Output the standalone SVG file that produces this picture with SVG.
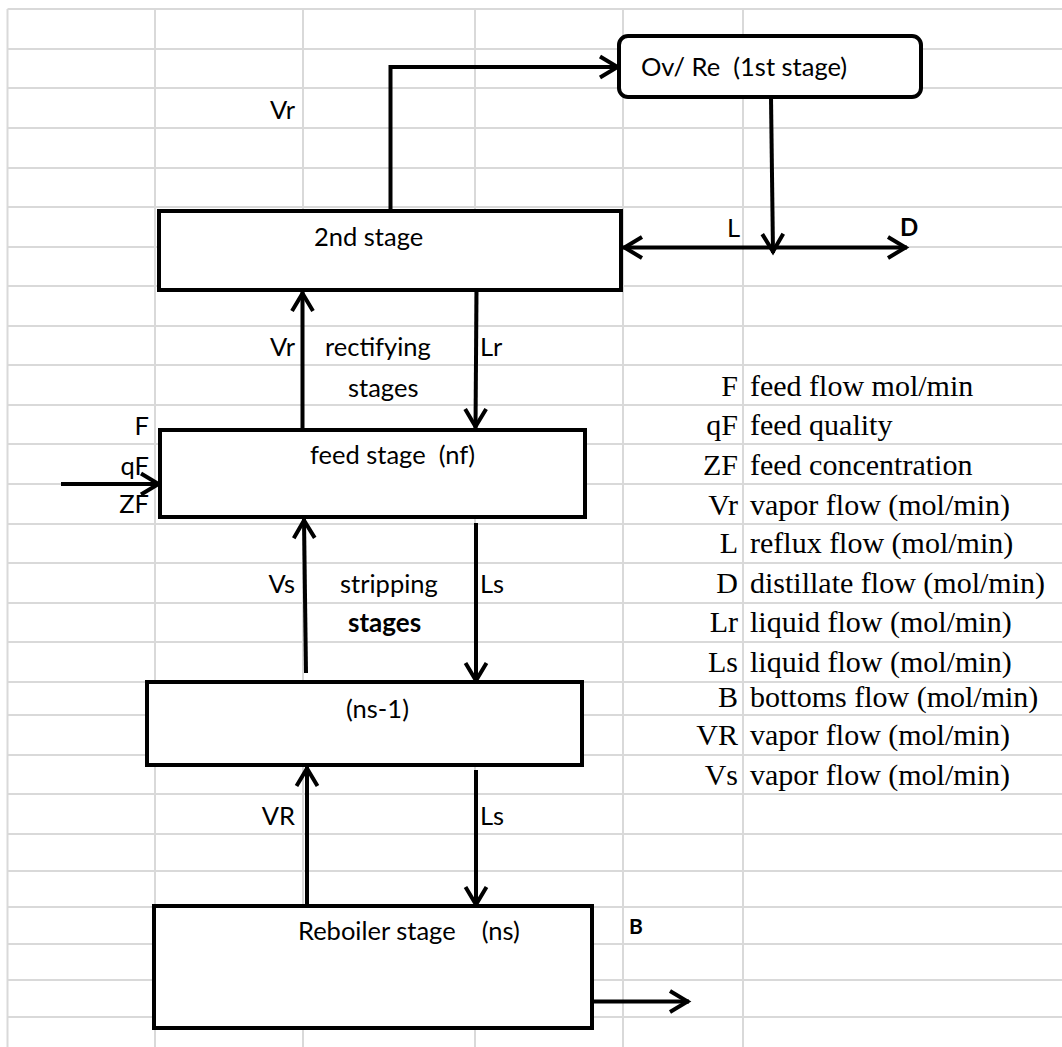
<svg xmlns="http://www.w3.org/2000/svg" width="1062" height="1047" viewBox="0 0 1062 1047">
<style>
.grid line{stroke:#d9d9d9;stroke-width:2}
.box{fill:#fff;stroke:#000;stroke-width:4}
.conn{fill:none;stroke:#000;stroke-width:4}
.c{font-family:Lato,"Open Sans",sans-serif;font-size:25.5px;fill:#000;white-space:pre}
.cb{font-family:Lato,"Open Sans",sans-serif;font-weight:bold;fill:#000}
.t{font-family:"Liberation Serif","Times New Roman",serif;font-size:30px;fill:#000}
</style>
<defs>
<marker id="ah" viewBox="-22 -13 26 26" refX="0" refY="0" markerWidth="26" markerHeight="26" markerUnits="userSpaceOnUse" orient="auto-start-reverse">
<path d="M-19,-10.5 L-1.5,0 L-19,10.5" fill="none" stroke="#000" stroke-width="4"/>
</marker>
</defs>
<rect width="1062" height="1047" fill="#fff"/>
<g class="grid">
<line x1="7.5" y1="9" x2="7.5" y2="1047"/>
<line x1="155" y1="9" x2="155" y2="1047"/>
<line x1="303" y1="9" x2="303" y2="1047"/>
<line x1="475" y1="9" x2="475" y2="1047"/>
<line x1="623" y1="9" x2="623" y2="1047"/>
<line x1="743" y1="9" x2="743" y2="1047"/>
<line x1="7.5" y1="9" x2="1062" y2="9"/>
<line x1="7.5" y1="49" x2="1062" y2="49"/>
<line x1="7.5" y1="88" x2="1062" y2="88"/>
<line x1="7.5" y1="128" x2="1062" y2="128"/>
<line x1="7.5" y1="168" x2="1062" y2="168"/>
<line x1="7.5" y1="207" x2="1062" y2="207"/>
<line x1="7.5" y1="247" x2="1062" y2="247"/>
<line x1="7.5" y1="286" x2="1062" y2="286"/>
<line x1="7.5" y1="326" x2="1062" y2="326"/>
<line x1="7.5" y1="365" x2="1062" y2="365"/>
<line x1="7.5" y1="405" x2="1062" y2="405"/>
<line x1="7.5" y1="444" x2="1062" y2="444"/>
<line x1="7.5" y1="484" x2="1062" y2="484"/>
<line x1="7.5" y1="524" x2="1062" y2="524"/>
<line x1="7.5" y1="563" x2="1062" y2="563"/>
<line x1="7.5" y1="603" x2="1062" y2="603"/>
<line x1="7.5" y1="642" x2="1062" y2="642"/>
<line x1="7.5" y1="682" x2="1062" y2="682"/>
<line x1="7.5" y1="715" x2="1062" y2="715"/>
<line x1="7.5" y1="755" x2="1062" y2="755"/>
<line x1="7.5" y1="794" x2="1062" y2="794"/>
<line x1="7.5" y1="834" x2="1062" y2="834"/>
<line x1="7.5" y1="871" x2="1062" y2="871"/>
<line x1="7.5" y1="907" x2="1062" y2="907"/>
<line x1="7.5" y1="944" x2="1062" y2="944"/>
<line x1="7.5" y1="980" x2="1062" y2="980"/>
<line x1="7.5" y1="1017" x2="1062" y2="1017"/>
</g>
<g id="connectors">
<polyline class="conn" points="390.5,211 390.5,67 619,67" marker-end="url(#ah)"/>
<line class="conn" x1="771" y1="97" x2="773" y2="253" marker-end="url(#ah)"/>
<line class="conn" x1="623" y1="247.5" x2="907" y2="247.5" marker-start="url(#ah)" marker-end="url(#ah)"/>
<line class="conn" x1="302.5" y1="430" x2="302.5" y2="292" marker-end="url(#ah)"/>
<line class="conn" x1="476.5" y1="292" x2="475.5" y2="428" marker-end="url(#ah)"/>
<line class="conn" x1="61" y1="484" x2="160" y2="484" marker-end="url(#ah)"/>
<line class="conn" x1="306" y1="673" x2="304" y2="519" marker-end="url(#ah)"/>
<line class="conn" x1="476" y1="523" x2="476" y2="682" marker-end="url(#ah)"/>
<line class="conn" x1="307" y1="906" x2="307" y2="767" marker-end="url(#ah)"/>
<line class="conn" x1="476" y1="770" x2="476" y2="906" marker-end="url(#ah)"/>
<line class="conn" x1="592" y1="1001.5" x2="689" y2="1001.5" marker-end="url(#ah)"/>
</g>
<g id="ov-re">
<rect class="box" x="619" y="36" width="302" height="61" rx="9"/>
<text class="c" x="641" y="76">Ov/ Re  (1st stage)</text>
</g>
<g id="stage2">
<rect class="box" x="159" y="211" width="462" height="79"/>
<text class="c" x="314" y="246">2nd stage</text>
</g>
<g id="feed-stage">
<rect class="box" x="160" y="430" width="425" height="87"/>
<text class="c" x="310" y="464">feed stage  (nf)</text>
</g>
<g id="ns-1">
<rect class="box" x="147" y="682" width="435" height="83"/>
<text class="c" x="346" y="718">(ns-1)</text>
</g>
<g id="reboiler">
<rect class="box" x="154" y="906" width="438" height="122"/>
<text class="c" x="298" y="940">Reboiler stage    (ns)</text>
</g>
<g id="labels">
<text class="c" x="295" y="119" text-anchor="end">Vr</text>
<text class="c" x="727" y="237">L</text>
<text class="cb" x="900" y="236" font-size="24">D</text>
<text class="c" x="295" y="356" text-anchor="end">Vr</text>
<text class="c" x="325" y="356" font-size="28.5">rectifying</text>
<text class="c" x="480" y="356">Lr</text>
<text class="c" x="348" y="397" font-size="28.5">stages</text>
<text class="c" x="149" y="435" text-anchor="end">F</text>
<text class="c" x="149" y="475" text-anchor="end">qF</text>
<text class="c" x="149" y="513" text-anchor="end">ZF</text>
<text class="c" x="295" y="593" text-anchor="end">Vs</text>
<text class="c" x="340" y="593">stripping</text>
<text class="c" x="480" y="593">Ls</text>
<text class="cb" x="348" y="632" font-size="26">stages</text>
<text class="c" x="295" y="825" text-anchor="end">VR</text>
<text class="c" x="480" y="825">Ls</text>
<text class="cb" x="629" y="934" font-size="21">B</text>
</g>
<g id="legend">
<text class="t" x="738" y="396" text-anchor="end">F</text><text class="t" x="750" y="396">feed flow mol/min</text>
<text class="t" x="738" y="435" text-anchor="end">qF</text><text class="t" x="750" y="435">feed quality</text>
<text class="t" x="738" y="475" text-anchor="end">ZF</text><text class="t" x="750" y="475">feed concentration</text>
<text class="t" x="738" y="515" text-anchor="end">Vr</text><text class="t" x="750" y="515">vapor flow (mol/min)</text>
<text class="t" x="738" y="553" text-anchor="end">L</text><text class="t" x="750" y="553">reflux flow (mol/min)</text>
<text class="t" x="738" y="593" text-anchor="end">D</text><text class="t" x="750" y="593">distillate flow (mol/min)</text>
<text class="t" x="738" y="632" text-anchor="end">Lr</text><text class="t" x="750" y="632">liquid flow (mol/min)</text>
<text class="t" x="738" y="672" text-anchor="end">Ls</text><text class="t" x="750" y="672">liquid flow (mol/min)</text>
<text class="t" x="738" y="707" text-anchor="end">B</text><text class="t" x="750" y="707">bottoms flow (mol/min)</text>
<text class="t" x="738" y="745" text-anchor="end">VR</text><text class="t" x="750" y="745">vapor flow (mol/min)</text>
<text class="t" x="738" y="785" text-anchor="end">Vs</text><text class="t" x="750" y="785">vapor flow (mol/min)</text>
</g>
</svg>
